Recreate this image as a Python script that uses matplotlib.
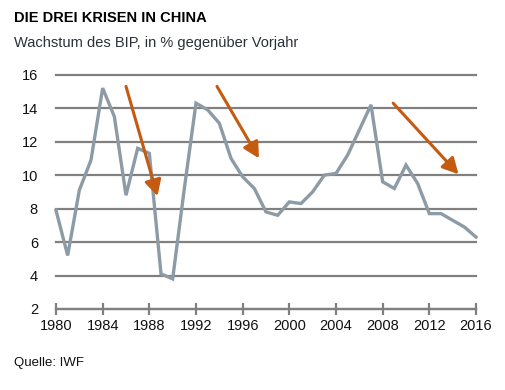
# %%
# =============================================================================
# Imports
# =============================================================================
import matplotlib
matplotlib.use("Agg")
import matplotlib.pyplot as plt

plt.rcParams['font.family'] = ['Liberation Sans', 'DejaVu Sans']

# %%
# =============================================================================
# Données
# =============================================================================
years = list(range(1980, 2017))
growth = [7.9, 5.2, 9.1, 10.9, 15.2, 13.5, 8.8, 11.6, 11.3, 4.1,
          3.8, 9.2, 14.3, 13.9, 13.1, 11.0, 9.9, 9.2, 7.8, 7.6,
          8.4, 8.3, 9.0, 10.0, 10.1, 11.2, 12.7, 14.2, 9.6, 9.2,
          10.6, 9.5, 7.7, 7.7, 7.3, 6.9, 6.3]

# flèches des trois crises (début -> fin, en année / %)
arrow_start = [(1986.0, 15.3), (1993.8, 15.3), (2008.9, 14.3)]
arrow_end = [(1988.7, 8.75), (1997.4, 11.0), (2014.5, 10.05)]

xticks = list(range(1980, 2017, 4))
yticks = list(range(2, 17, 2))

title = "DIE DREI KRISEN IN CHINA"
subtitle = "Wachstum des BIP, in % gegenüber Vorjahr"
source = "Quelle: IWF"

# %%
# =============================================================================
# Figure
# =============================================================================
W, H = 506, 390
fig = plt.figure(figsize=(W / 100, H / 100), dpi=100)
ax = fig.add_axes([56 / W, (H - 309) / H, 420 / W, 234.3 / H])

grid_col = "#808080"
line_col = "#8c9ba5"
arrow_col = "#c55a11"

ax.plot(years, growth, color=line_col, lw=2.4, solid_joinstyle="miter", zorder=3, clip_on=False)

for (x0, y0), (x1, y1) in zip(arrow_start, arrow_end):
    ax.annotate("", xy=(x1, y1), xytext=(x0, y0),
                arrowprops=dict(arrowstyle="-|>,head_length=0.95,head_width=0.5",
                                color=arrow_col, lw=2.2, shrinkA=0, shrinkB=0),
                zorder=4, annotation_clip=False)

ax.set_xlim(1980, 2016)
ax.set_ylim(2, 16)
ax.set_xticks(xticks)
ax.set_yticks(yticks)

for s in ["top", "right", "left"]:
    ax.spines[s].set_visible(False)
ax.spines["bottom"].set_color(grid_col)
ax.spines["bottom"].set_linewidth(1.6)

ax.yaxis.grid(True, color=grid_col, lw=1.6)
ax.set_axisbelow(True)
for gl in ax.get_ygridlines():
    gl.set_clip_on(False)

ax.tick_params(axis="y", length=0, pad=13, labelsize=10.5, labelcolor="#111111")
ax.tick_params(axis="x", direction="inout", length=9, width=1.6, color=grid_col,
               pad=3, labelsize=10.5, labelcolor="#111111")

fig.text(14 / W, 1 - 18 / H, title, fontsize=10.5, fontweight="bold", va="center", ha="left")
fig.text(14 / W, 1 - 43 / H, subtitle, fontsize=10.5, color="#2b2f38", va="center", ha="left")
fig.text(14 / W, 1 - 363 / H, source, fontsize=9.5, color="#111111", va="center", ha="left")

fig.savefig("out.png", dpi=100)
